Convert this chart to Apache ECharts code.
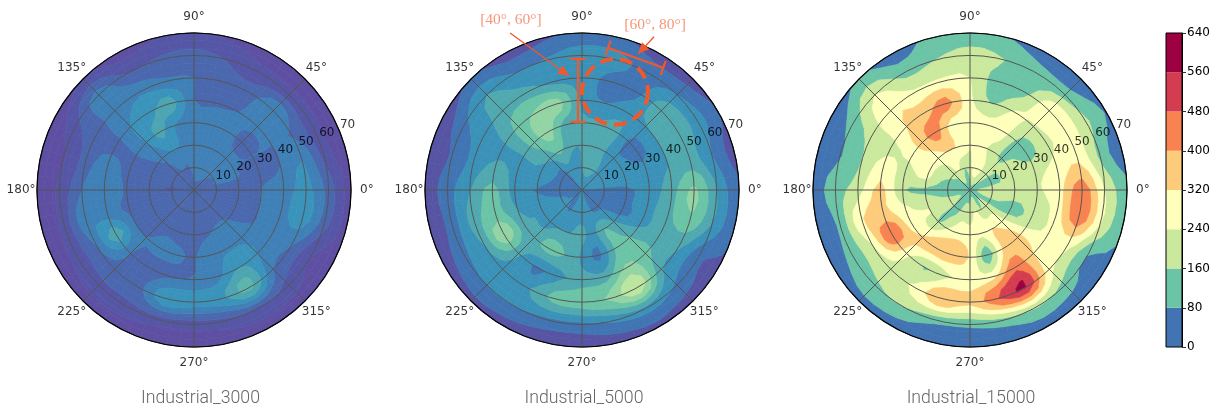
<!DOCTYPE html>
<html><head><meta charset="utf-8">
<style>html,body{margin:0;padding:0;background:#fff}#c{width:1217px;height:410px}</style>
<script src="https://cdn.jsdelivr.net/npm/echarts@6/dist/echarts.min.js"></script>
</head><body><div id="c"></div>
<script>
// grid of the contour data: one row per angle (0,15,...345 deg), one value per radius
const radii = [10,20,30,40,50,60,70];
const angles = [0,15,30,45,60,75,90,105,120,135,150,165,180,195,210,225,240,255,270,285,300,315,330,345];
const titles = ['Industrial_3000','Industrial_5000','Industrial_15000'];
// values are in contour-level units (level k = k-th colour band boundary)
const center3000 = 2.4, center5000 = 2.0, center15000 = 1.6;
const z3000 = [
[2.2,2.5,3,3.5,4.3,2.6,.5],[3,3,2.8,3,4,1.6,.4],[3,3,3,3,2.9,1.4,.3],[3.2,3.2,2.8,3.2,4,1.4,.3],
[3.6,3.2,3.3,3,2.5,1.3,.5],[4,3.2,3.8,2.8,2.4,1.9,.8],[3.4,3.4,3.6,3,3,2.4,1],[2.8,3.9,3.8,5.5,3.2,2.2,.9],
[3,4,5.3,4.6,3.8,1.9,.5],[2.6,3.2,4,4,3.4,3.5,1],[2.5,2.8,2.9,2.7,2.6,1.8,.4],[2.1,2.7,2.6,3.6,2.4,.9,.3],
[1.9,2.4,2.8,4,3,1.2,.4],[2.4,2.7,2.8,3.4,3.8,1.3,.3],[2.6,2.8,3,5.6,3,1.4,.4],[2.6,2.6,3,3,2.6,1.7,.5],
[2.4,2.8,3.2,2.6,2.6,1.7,.4],[2.6,2.6,3.2,2.8,4.8,1.5,.4],[2.6,2.7,2.9,3.1,4.5,1.4,.4],[2.4,2.8,3.7,3.6,4.8,1.7,.5],
[2.4,3.1,3.8,5,6.4,2,.6],[2.4,3.1,3.8,4,3,1.6,.5],[2.2,2.5,3,3.5,3,1,.5],[2.2,2.5,3,3.6,4.5,2.4,.6]];
const z5000 = [
[1.7,1.8,2.5,3.5,5.2,3,1.2],[2.5,2.5,2.6,3,3.5,2,.5],[2.7,2.5,1.7,3,3.5,2.5,1],[2.7,2.2,1.7,2.9,3.7,2,.5],
[3.2,3,3.3,2.6,1.7,1.6,.5],[3.6,3.3,3.2,2,1.6,2.4,1.1],[3,3,3.2,2.7,2.6,2.6,1.2],[2.2,3.2,3.5,5.4,2.6,2.1,.8],
[2.5,4.2,5.4,5.2,3.4,2,.5],[1.6,3.2,4.4,4.4,3.5,3,1.1],[1.7,2.9,3,2.9,2.5,1.8,.4],[1.4,2.8,2.8,3.2,2.3,1.1,.3],
[1,1.9,2.5,4.3,2.9,1.6,.4],[1.9,2.5,2.9,4.4,3.5,1.4,.3],[2.1,2.9,3.3,5.8,3,1.8,.4],[2.1,2.5,3.6,3.2,2.6,2,.7],
[1.9,3,4.4,1.8,2.8,2,.5],[2.7,3,4,2.7,4.3,1.7,.4],[2.6,3.2,2.8,3.4,4.6,1.7,.4],[2.3,2.7,1.7,3.4,5.2,2.2,.5],
[1.7,4,4.1,5.2,6.9,2.6,.7],[1.8,3,4,4.3,3.1,1.8,.5],[1.6,1.7,2.7,3.5,3.2,1.2,.8],[1.6,1.8,2.6,3.7,4.8,2.9,1.2]];
const z15000 = [
[2.8,2.8,2.9,3.6,5.6,3,1.3],[1.7,2.5,2.7,3.3,3.9,1.7,.3],[1.6,2.5,1.7,2.7,3.5,2.2,.9],[2.5,1.8,1.7,2.8,3.9,1.5,.3],
[3,2.6,3.4,3.1,1.7,1.4,.4],[3.9,3.2,3.4,1.9,1.4,2,1],[2.5,3.1,3.6,3.2,3,2.4,1.4],[2,3.9,3.4,5.4,3.2,2,1.2],
[3.1,4,5.4,4.6,3.2,1.6,.5],[2.3,3.4,4.5,4,3.9,3,1.1],[2,3.2,3.2,2.8,2.4,1.4,.3],[1.4,3.1,2.7,3.4,2,.9,.3],
[1.3,1.8,2.1,4.3,2.5,1.6,.5],[1.8,2.6,3.1,4.3,3.9,1.2,.3],[2.5,3,3.4,6,2.9,1.4,.4],[1.9,1.9,4.2,3.3,2.6,1.8,.7],
[1.7,3,4.7,1.9,3.2,2,.4],[2.5,3.6,4.6,2.8,5,1.3,.3],[2.4,3.4,3.9,3.3,4.3,1.2,.3],[3.1,3.3,1.3,3.6,6,1.6,.4],
[2,4,4.2,5.7,7,2.1,.6],[2.6,3.4,4.4,4,3.3,1.6,.4],[1.6,1.7,2.5,3.2,3.3,.9,.8],[2.5,1.9,2.4,3.4,5.6,3,1.1]];
const colors3000 = ['#5e4fa2','#5556a6','#4b67ae','#3f80b7','#3a93ba','#4ca5b1','#5cb4aa','#6cc4a6'];
const colors5000 = ['#5654a3','#4074b3','#3b92b9','#50a9af','#6cc4a6','#93d4a4','#bce5a0','#cbe99d'];
const colors15000 = ['#4274b3','#6cc4a6','#cbe99d','#feffbb','#fdcc7b','#f88350','#d43d4f','#9e0142'];
const colorbarTicks = [0,80,160,240,320,400,480,560,640];
const angleTicks = [0,45,90,135,180,225,270,315];
const radialTicks = [10,20,30,40,50,60,70];
// annotation geometry in polar data units [r, theta]
const bracketA = [[58.5,91.7],[30.4,93.4]];
const bracketB = [[64.5,79.6],[65.4,56.4]];
const arrowA = [[77,114.6],[51.2,96.5]];
const arrowB = [[75.5,64.8],[65.7,67.6]];
const ringCentre = [46.2,71.4], ringRadius = 14.7;
const noteLabels = [{t:'[40°, 60°]',at:[82.1,112.7]},{t:'[60°, 80°]',at:[80.4,66.1]}];

const centers = [[194,190],[582,190],[970,190]];
const R = 157;
const titleX = [200.5,584,971];
const ORANGE = '#f1582c';
const font = '"DejaVu Sans"';

function clip(poly,val,keepAbove){
  const out=[];
  for(let i=0;i<poly.length;i++){
    const a=poly[i],b=poly[(i+1)%poly.length];
    const ia=keepAbove?a[2]>=val:a[2]<=val, ib=keepAbove?b[2]>=val:b[2]<=val;
    if(ia) out.push(a);
    if(ia!==ib){const t=(val-a[2])/(b[2]-a[2]);out.push([a[0]+t*(b[0]-a[0]),a[1]+t*(b[1]-a[1]),val]);}
  }
  return out;
}
function cr(p0,p1,p2,p3,t){
  return 0.5*(2*p1+(p2-p0)*t+(2*p0-5*p1+4*p2-p3)*t*t+(3*p1-p0-3*p2+p3)*t*t*t);
}
function contourSeries(pi,z,c0,cols){
  const rs=[0].concat(radii), nA=angles.length, nR=rs.length;
  const val=(ai,rj)=>{
    rj=Math.min(rj,nR-1);
    if(rj<0){rj=-rj;ai+=nA/2;}
    return rj===0?c0:z[((ai%nA)+nA)%nA][rj-1];
  };
  const data=[];
  for(let a=0;a<nA;a++)for(let j=0;j<nR-1;j++)data.push([rs[j],angles[a],val(a,j)]);
  const N=3,M=3;
  return {type:'custom',coordinateSystem:'polar',polarIndex:pi,z:1,silent:true,animation:false,clip:false,
    encode:{radius:0,angle:1},data,
    renderItem(params,api){
      const idx=params.dataIndex,j=idx%(nR-1),a=(idx-j)/(nR-1);
      const th0=angles[a],dTh=15,r0=rs[j],dR=rs[j+1]-r0;
      const f=(u,w)=>{
        const col=[-1,0,1,2].map(d=>cr(val(a-1,j+d),val(a,j+d),val(a+1,j+d),val(a+2,j+d),u));
        return cr(col[0],col[1],col[2],col[3],w);
      };
      const polys=cols.map(()=>[]);
      const P=(u,w)=>[r0+dR*w,th0+dTh*u,f(u,w)];
      for(let n=0;n<N;n++)for(let m=0;m<M;m++){
        const u0=n/N,u1=(n+1)/N,w0=m/M,w1=(m+1)/M;
        const q=[P(u0,w0),P(u1,w0),P(u1,w1),P(u0,w1)];
        const lo=Math.min(q[0][2],q[1][2],q[2][2],q[3][2]),hi=Math.max(q[0][2],q[1][2],q[2][2],q[3][2]);
        for(let k=Math.max(0,Math.floor(lo));k<cols.length&&k<=hi;k++){
          let p=k===0?q:clip(q,k,true); if(p.length<3)continue;
          p=k===cols.length-1?p:clip(p,k+1,false); if(p.length<3)continue;
          polys[k].push(p);
        }
        if(hi<0)polys[0].push(q);
      }
      const children=[];
      polys.forEach((list,k)=>list.forEach(p=>children.push({type:'polygon',
        shape:{points:p.map(d=>api.coord([d[0],d[1]]))},
        style:{fill:cols[k],stroke:cols[k],lineWidth:0.7}})));
      return {type:'group',children};
    }};
}
function textSeries(pi,items,style){
  return {type:'scatter',coordinateSystem:'polar',polarIndex:pi,symbolSize:0,z:20,silent:true,animation:false,clip:false,
    data:items.map(d=>({value:d.at,name:d.t})),
    label:Object.assign({show:true,position:'inside',formatter:'{b}',fontFamily:font,fontSize:12,color:'#000'},style)};
}
function polarLine(a,b,sty,head){
  const s=Object.assign({stroke:ORANGE,fill:null,lineWidth:2.2},sty);
  const out=[{type:'line',shape:{x1:a[0],y1:a[1],x2:b[0],y2:b[1]},style:s}];
  if(head){
    const d=Math.atan2(b[1]-a[1],b[0]-a[0]),L=11,W=5;
    const bx=b[0]-L*Math.cos(d),by=b[1]-L*Math.sin(d);
    out.push({type:'polygon',shape:{points:[b,[bx-W*Math.sin(d),by+W*Math.cos(d)],[bx+W*Math.sin(d),by-W*Math.cos(d)]]},style:{fill:ORANGE}});
  }
  return out;
}
const annotationSeries = {type:'custom',coordinateSystem:'polar',polarIndex:1,z:15,silent:true,animation:false,clip:false,
  encode:{radius:0,angle:1},data:[[ringCentre[0],ringCentre[1]]],
  renderItem(params,api){
    const c=api.coord(ringCentre);
    const o=api.coord([0,0]),e=api.coord([ringRadius,0]);
    const rad=Math.hypot(e[0]-o[0],e[1]-o[1]);
    const kids=[{type:'circle',shape:{cx:c[0],cy:c[1],r:rad},style:{fill:null,stroke:ORANGE,lineWidth:4,lineDash:[13,7]}}];
    [bracketA,bracketB].forEach(br=>{
      const a=api.coord(br[0]),b=api.coord(br[1]);
      kids.push(...polarLine(a,b,{}));
      const d=Math.atan2(b[1]-a[1],b[0]-a[0]),nx=-Math.sin(d)*7.5,ny=Math.cos(d)*7.5;
      [a,b].forEach(p=>kids.push(...polarLine([p[0]-nx,p[1]-ny],[p[0]+nx,p[1]+ny],{})));
    });
    [arrowA,arrowB].forEach(ar=>kids.push(...polarLine(api.coord(ar[0]),api.coord(ar[1]),{lineWidth:1.3},true)));
    return {type:'group',children:kids};
  }};

const option={
  animation:false,backgroundColor:'#fff',
  title:titles.map((t,i)=>({text:t,left:titleX[i],top:399,padding:0,textAlign:'center',textVerticalAlign:'middle',
    textStyle:{fontFamily:'Roboto',fontWeight:300,fontSize:17.7,color:'#666'}})),
  polar:centers.map(c=>({center:c,radius:R})),
  angleAxis:centers.map((c,i)=>({polarIndex:i,type:'value',min:0,max:360,interval:45,startAngle:0,clockwise:false,z:5,
    axisLine:{show:true,lineStyle:{color:'#000',width:1.2}},axisTick:{show:false},axisLabel:{show:false},
    splitLine:{show:true,lineStyle:{color:'#555',width:1}}})),
  radiusAxis:centers.map((c,i)=>({polarIndex:i,type:'value',min:0,max:70,interval:10,z:5,
    axisLine:{show:false},axisTick:{show:false},axisLabel:{show:false},
    splitLine:{show:true,lineStyle:{color:'#555',width:1}}})),
  grid:[{left:1166,top:33,width:16,height:314,show:true,borderColor:'#000',borderWidth:1,backgroundColor:'transparent',z:5}],
  xAxis:[{type:'category',data:['c'],gridIndex:0,show:false}],
  yAxis:[{type:'value',gridIndex:0,min:0,max:640,interval:80,position:'right',
    axisLine:{show:true,onZero:false,lineStyle:{color:'#000'}},axisTick:{show:true,length:4,lineStyle:{color:'#333'}},splitLine:{show:false},
    axisLabel:{margin:5,fontFamily:font,fontSize:12,color:'#000'}}],
  series:[
    contourSeries(0,z3000,center3000,colors3000),
    contourSeries(1,z5000,center5000,colors5000),
    contourSeries(2,z15000,center15000,colors15000),
    ...colors15000.map((col,k)=>({type:'bar',xAxisIndex:0,yAxisIndex:0,stack:'cb',barWidth:'100%',silent:true,animation:false,
      itemStyle:{color:col},data:[colorbarTicks[k+1]-colorbarTicks[k]]})),
    ...centers.map((c,i)=>textSeries(i,angleTicks.map(a=>({t:a+'°',at:[77.1,a]})),{})),
    ...centers.map((c,i)=>textSeries(i,radialTicks.map(r=>({t:String(r),at:[r,22.5]})),{offset:[8.5,-5.5]})),
    annotationSeries,
    textSeries(1,noteLabels.map(n=>({t:n.t,at:n.at})),{fontFamily:'Liberation Serif',fontSize:15.5,color:'#f47a55'})
  ]
};
echarts.init(document.getElementById('c'),null,{renderer:'canvas'}).setOption(option);
</script></body></html>
